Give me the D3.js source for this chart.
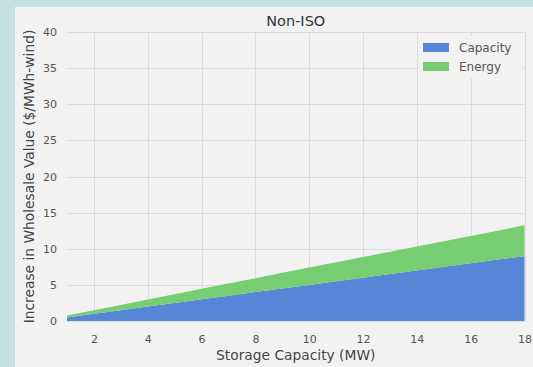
<!DOCTYPE html>
<html>
<head>
<meta charset="utf-8">
<script src="https://cdn.jsdelivr.net/npm/d3@7"></script>
<style>
  html, body { margin: 0; padding: 0; background: #c6dfe5; }
  svg { display: block; }
  text { font-family: "DejaVu Sans", sans-serif; }
</style>
</head>
<body>
<svg id="chart" width="533" height="367"></svg>
<script>
// Storage capacity (MW)
const storageMW = [1, 2, 3, 4, 5, 6, 7, 8, 9, 10, 11, 12, 13, 14, 15, 16, 17, 18];
// Increase in wholesale value ($/MWh-wind) by component
const capacityValue = [0.50, 1.00, 1.50, 2.00, 2.50, 3.00, 3.50, 4.00, 4.50, 5.00, 5.50, 6.00, 6.50, 7.00, 7.50, 8.00, 8.50, 8.95];
const energyValue   = [0.25, 0.49, 0.73, 0.97, 1.21, 1.45, 1.69, 1.93, 2.17, 2.40, 2.62, 2.85, 3.08, 3.31, 3.54, 3.77, 4.00, 4.30];
const seriesNames = ["Capacity", "Energy"];
const seriesColors = ["#5886d6", "#76cd72"];
const xTicks = [2, 4, 6, 8, 10, 12, 14, 16, 18];
const yTicks = [0, 5, 10, 15, 20, 25, 30, 35, 40];

const svg = d3.select("#chart");
const W = 533, H = 367;
const plot = { left: 67, right: 524.5, top: 32, bottom: 321 };

// figure panel
svg.append("rect").attr("x", 15).attr("y", 7).attr("width", W - 15).attr("height", H - 7).attr("fill", "#f2f2f2");

const x = d3.scaleLinear().domain([1, 18]).range([plot.left, plot.right]);
const y = d3.scaleLinear().domain([0, 40]).range([plot.bottom, plot.top]);

// grid
const grid = svg.append("g").attr("stroke", "#dcdcdc").attr("stroke-width", 1);
xTicks.forEach(t => grid.append("line")
  .attr("x1", Math.round(x(t)) + 0.5).attr("x2", Math.round(x(t)) + 0.5)
  .attr("y1", plot.top).attr("y2", plot.bottom));
yTicks.forEach(t => grid.append("line")
  .attr("x1", plot.left).attr("x2", plot.right)
  .attr("y1", Math.round(y(t)) + 0.5).attr("y2", Math.round(y(t)) + 0.5));

// stacked areas
const rows = storageMW.map((m, i) => ({ mw: m, Capacity: capacityValue[i], Energy: energyValue[i] }));
const stacked = d3.stack().keys(seriesNames)(rows);
const area = d3.area()
  .x(d => x(d.data.mw))
  .y0(d => y(d[0]))
  .y1(d => y(d[1]));
svg.append("g").selectAll("path").data(stacked).join("path")
  .attr("d", area)
  .attr("fill", (d, i) => seriesColors[i]);

// axes
const xAxis = svg.append("g").attr("transform", `translate(0,${plot.bottom})`)
  .call(d3.axisBottom(x).tickValues(xTicks).tickSize(0).tickPadding(14).tickFormat(d3.format("d")));
const yAxis = svg.append("g").attr("transform", `translate(${plot.left},0)`)
  .call(d3.axisLeft(y).tickValues(yTicks).tickSize(0).tickPadding(10).tickFormat(d3.format("d")));
[xAxis, yAxis].forEach(a => {
  a.select(".domain").remove();
  a.selectAll("text").attr("fill", "#555").style("font-size", "11px").style("font-family", "'DejaVu Sans', sans-serif");
});

// titles
svg.append("text").attr("x", (plot.left + plot.right) / 2).attr("y", 25.5)
  .attr("text-anchor", "middle").attr("fill", "#333").style("font-size", "14.5px").text("Non-ISO");
svg.append("text").attr("x", (plot.left + plot.right) / 2).attr("y", 360)
  .attr("text-anchor", "middle").attr("fill", "#444").style("font-size", "13.8px").text("Storage Capacity (MW)");
svg.append("text")
  .attr("transform", `translate(34,${(plot.top + plot.bottom) / 2}) rotate(-90)`)
  .attr("text-anchor", "middle").attr("fill", "#444").style("font-size", "13.8px")
  .text("Increase in Wholesale Value ($/MWh-wind)");

// legend
const lg = svg.append("g");
lg.append("rect").attr("x", 420).attr("y", 36).attr("width", 102).attr("height", 42).attr("fill", "#f2f2f2");
seriesNames.forEach((name, i) => {
  const yy = 47.5 + i * 19;
  lg.append("rect").attr("x", 423).attr("y", yy - 4.5).attr("width", 26).attr("height", 9).attr("fill", seriesColors[i]);
  lg.append("text").attr("x", 459).attr("y", yy + 4).attr("fill", "#555").style("font-size", "12px").text(name);
});
</script>
</body>
</html>
